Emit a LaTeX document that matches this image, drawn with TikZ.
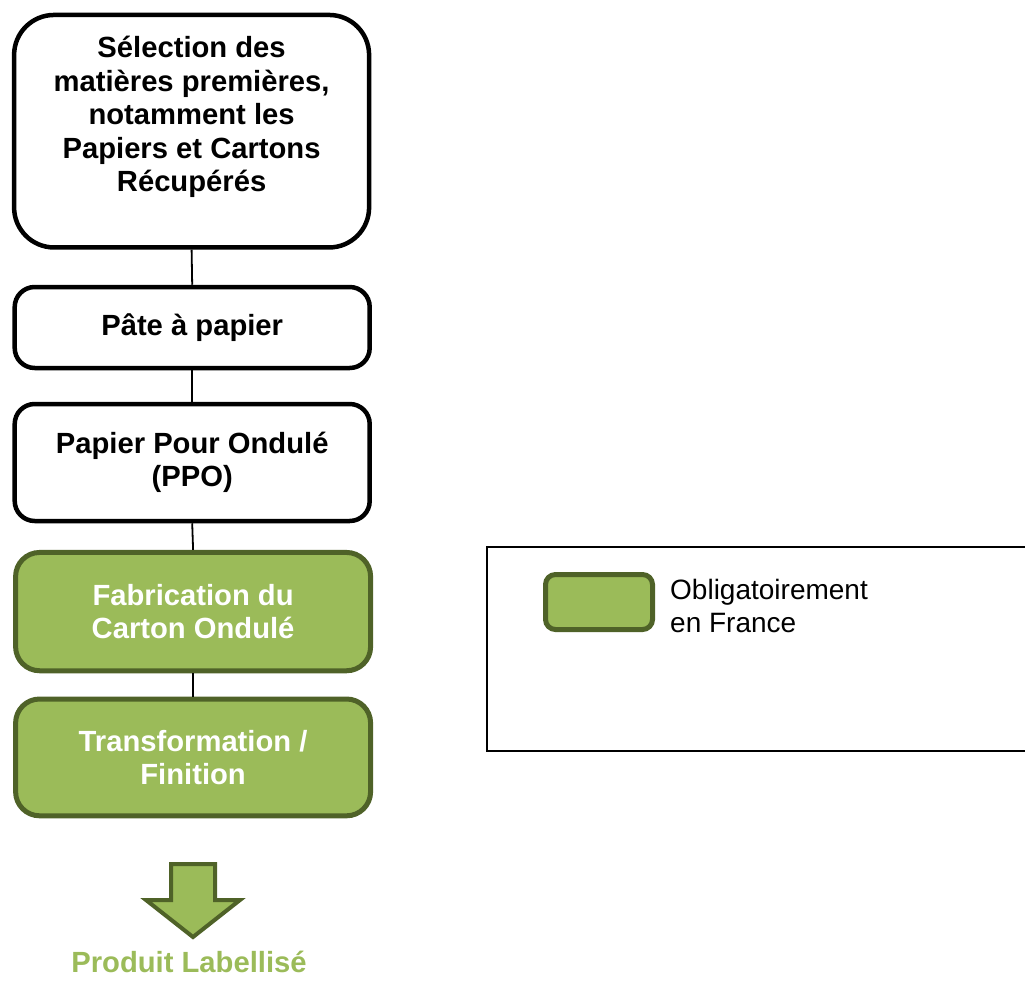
\documentclass[tikz,border=0pt]{standalone}
\usepackage{fontspec}
\setmainfont{Liberation Sans}
\definecolor{lgreen}{HTML}{9BBB59}
\definecolor{dgreen}{HTML}{4F6228}
\tikzset{
  stepbox/.style={draw=black, line width=4.5pt, fill=white, rounded corners=20pt,
    minimum width=355pt, inner sep=0pt, align=center,
    font=\bfseries\fontsize{29.2}{33.5}\selectfont},
  greenbox/.style={stepbox, draw=dgreen, fill=lgreen, text=white,
    rounded corners=24pt, line width=5pt},
  link/.style={line width=1.8pt, draw=black},
  boldtext/.style={inner sep=0pt, align=center, font=\bfseries\fontsize{29.2}{33.5}\selectfont}
}
\begin{document}
\begin{tikzpicture}[x=1pt,y=-1pt]
\useasboundingbox (0,0) rectangle (1025,980);
% flow boxes
\node[stepbox, rounded corners=40pt, minimum height=232.5pt] (b1) at (191.6,131.2) {};
\node[boldtext] (t1) at (191.6,117.3) {Sélection des\\matières premières,\\notamment les\\Papiers et Cartons\\Récupérés};
\node[stepbox, minimum height=81pt] (b2) at (192.2,327.5) {Pâte à papier};
\node[stepbox, minimum height=117pt] (b3) at (192.2,462.5) {Papier Pour Ondulé\\(PPO)};
\node[greenbox, minimum height=118.3pt] (b4) at (193.1,611.6) {Fabrication du\\Carton Ondulé};
\node[greenbox, minimum height=116.8pt] (b5) at (193.1,757.4) {Transformation /\\Finition};
% connectors
\draw[link] (b1.south) -- (b2.north);
\draw[link] (b2.south) -- (b3.north);
\draw[link] (b3.south) -- (b4.north);
\draw[link] (b4.south) -- (b5.north);
% block arrow
\draw[draw=dgreen, fill=lgreen, line width=4pt, line join=miter]
  (171,864) -- (215,864) -- (215,900) -- (240,900) -- (193,937) -- (146,900) -- (171,900) -- cycle;
\node[boldtext, text=lgreen, anchor=base, text depth=0pt] (pl) at (189,972) {Produit Labellisé};
% legend
\draw[line width=2pt] (1026,547.2) -- (487.2,547.2) -- (487.2,751) -- (1026,751);
\node[draw=dgreen, fill=lgreen, line width=5pt, rounded corners=10pt,
  minimum width=107pt, minimum height=55pt, inner sep=0pt] (sw) at (599,602) {};
\node[anchor=north west, align=left, inner sep=0pt,
  font=\fontsize{28}{33}\selectfont] (lt) at (670,579.5) {Obligatoirement\\en France};
\end{tikzpicture}
\end{document}
